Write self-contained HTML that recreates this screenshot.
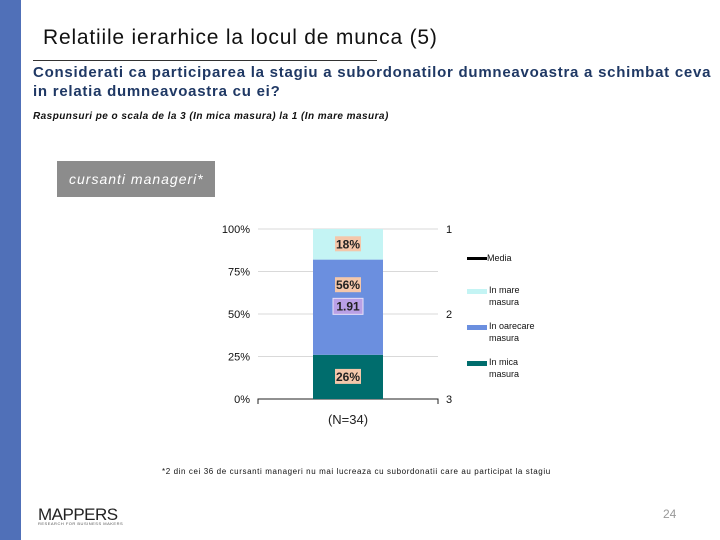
<!DOCTYPE html>
<html><head><meta charset="utf-8"><style>
body{margin:0;width:720px;height:540px;background:#fff;position:relative;overflow:hidden;font-family:"Liberation Sans",sans-serif}
.abs{position:absolute}
</style></head><body>
<div class="abs" style="left:0;top:0;width:21px;height:540px;background:#5070b8"></div>
<div class="abs" style="left:43px;top:26px;font-size:21px;color:#111;white-space:nowrap;letter-spacing:0.8px">Relatiile ierarhice la locul de munca (5)</div>
<div class="abs" style="left:33px;top:60px;width:344px;height:1px;background:#333"></div>
<div class="abs" style="left:33px;top:63px;font-size:15px;font-weight:bold;color:#1f3864;line-height:19px;letter-spacing:0.75px;white-space:nowrap">Considerati ca participarea la stagiu a subordonatilor dumneavoastra a schimbat ceva<br>in relatia dumneavoastra cu ei?</div>
<div class="abs" style="left:33px;top:111px;font-size:10px;font-style:italic;font-weight:bold;color:#111;white-space:nowrap;letter-spacing:0.45px">Raspunsuri pe o scala de la 3 (In mica masura) la 1 (In mare masura)</div>
<div class="abs" style="left:57px;top:161px;width:158px;height:36px;background:#8c8c8c;color:#fff;font-size:14px;font-style:italic;line-height:36px;text-indent:12px;letter-spacing:1px">cursanti manageri*</div>
<svg class="abs" style="left:0;top:0" width="720" height="540">
<g id="g"></g>
</svg>
<div class="abs" style="left:162px;top:467px;font-size:8px;color:#111;white-space:nowrap;letter-spacing:0.6px">*2 din cei 36 de cursanti manageri nu mai lucreaza cu subordonatii care au participat la stagiu</div>
<div class="abs" style="left:38px;top:505px;font-size:17px;color:#222;letter-spacing:-0.5px">MAPPERS</div>
<div class="abs" style="left:38px;top:521px;font-size:4px;color:#555;letter-spacing:0.5px">RESEARCH FOR BUSINESS MAKERS</div>
<div class="abs" style="left:663px;top:507px;font-size:12px;color:#999">24</div>
<script>
const categories=["(N=34)"];
const segLabels=["In mica masura","In oarecare masura","In mare masura"];
const segValues=[26,56,18];
const segColors=["#006d6d","#6b8fdf","#c4f4f4"];
const meanValue=1.91;
const leftTicks=["0%","25%","50%","75%","100%"];
const rightTicks=[3,2,1];
const NS="http://www.w3.org/2000/svg";
const g=document.getElementById('g');
const X0=258,X1=438,Y0=399,Y1=229;
const y=v=>Y0-(v/100)*(Y0-Y1);
const yr=v=>Y1+(v-1)/2*(Y0-Y1);
function mk(t,a){const e=document.createElementNS(NS,t);for(const k in a)e.setAttribute(k,a[k]);g.appendChild(e);return e;}
leftTicks.forEach((t,i)=>{const v=i*25;
 if(v>0){const l=mk('line',{x1:X0,x2:X1,y1:y(v),y2:y(v),stroke:'#d9d9d9'});}
 const tx=mk('text',{x:250,y:y(v)+4,'text-anchor':'end','font-size':'11','font-family':'Liberation Sans','fill':'#111'});tx.textContent=t;
 });
rightTicks.forEach(v=>{const tx=mk('text',{x:446,y:yr(v)+4,'font-size':'11','font-family':'Liberation Sans','fill':'#111'});tx.textContent=v;
 });
const ax=mk('path',{d:`M${X0} 404V${Y0}H${X1}V404`,stroke:'#222',fill:'none'});

const bx=313,bw=70;let acc=0;
segValues.forEach((v,i)=>{const top=y(acc+v),bot=y(acc);
 const r=mk('rect',{x:bx,y:top,width:bw,height:bot-top,fill:segColors[i]});
 
 const cy=(top+bot)/2+(i==1?-22:0);
 const b=mk('rect',{x:bx+22,y:cy-8,width:26,height:15,fill:'#f4c7aa'});
 
 const tx=mk('text',{x:bx+35,y:cy+4,'text-anchor':'middle','font-size':'12','font-weight':'bold','font-family':'Liberation Sans','fill':'#222'});tx.textContent=v+'%';
 
 acc+=v;});
const my=yr(meanValue);
const mb=mk('rect',{x:bx+20,y:my-8,width:30,height:16,fill:'#b9a0e6',stroke:'#e8e0f8'});

const mt=mk('text',{x:bx+35,y:my+4,'text-anchor':'middle','font-size':'12','font-weight':'bold','font-family':'Liberation Sans','fill':'#222'});mt.textContent=meanValue.toFixed(2);

const ct=mk('text',{x:348,y:424,'text-anchor':'middle','font-size':'13','font-family':'Liberation Sans','fill':'#222'});ct.textContent=categories[0];

const ml=mk('rect',{x:467,y:257,width:20,height:3,fill:'#000'});

const mlt=mk('text',{x:487,y:261,'font-size':'9','font-family':'Liberation Sans','fill':'#111'});mlt.textContent='Media';

[2,1,0].forEach((si,k)=>{const ly=293+k*36;
 const s=mk('rect',{x:467,y:ly-4,width:20,height:5,fill:segColors[si]});
 
 const words=segLabels[si].split(' ');
 const t1=mk('text',{x:489,y:ly,'font-size':'9','font-family':'Liberation Sans','fill':'#111'});t1.textContent=words[0]+' '+words[1];
 
 const t2=mk('text',{x:489,y:ly+12,'font-size':'9','font-family':'Liberation Sans','fill':'#111'});t2.textContent=words.slice(2).join(' ');
 });
</script>
</body></html>
